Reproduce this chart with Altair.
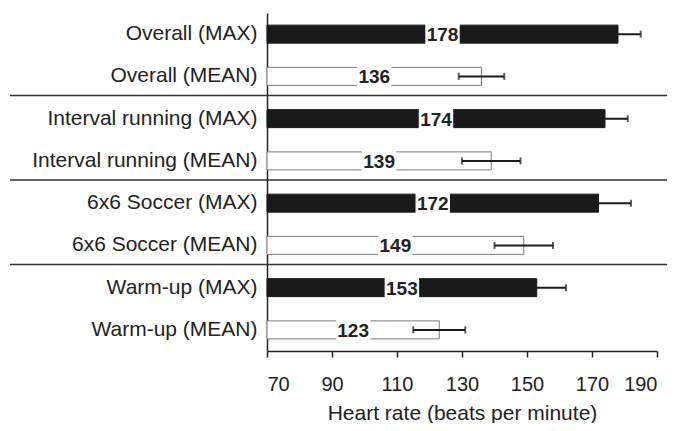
import altair as alt
import pandas as pd

categories = ["Overall (MAX)", "Overall (MEAN)",
              "Interval running (MAX)", "Interval running (MEAN)",
              "6x6 Soccer (MAX)", "6x6 Soccer (MEAN)",
              "Warm-up (MAX)", "Warm-up (MEAN)"]
kinds = ["MAX", "MEAN", "MAX", "MEAN", "MAX", "MEAN", "MAX", "MEAN"]
values = [178, 136, 174, 139, 172, 149, 153, 123]
sds = [7, 7, 7, 9, 10, 9, 9, 8]
x_ticks = [70, 90, 110, 130, 150, 170, 190]
separators = ["Interval running (MAX)", "6x6 Soccer (MAX)", "Warm-up (MAX)"]

X_MIN, X_MAX = 70, 190
FONT = "Liberation Sans"

df = pd.DataFrame({"cat": categories, "kind": kinds, "value": values, "sd": sds})
sep_df = pd.DataFrame({"cat": separators})

y_enc = alt.Y("cat:N", sort=categories,
              scale=alt.Scale(paddingInner=0, paddingOuter=0),
              axis=alt.Axis(title=None, ticks=False, labelFontSize=21, labelFont=FONT,
                            labelColor="#222", labelPadding=10, labelLimit=400,
                            domainColor="#222", domainWidth=1.5))
x_scale = alt.Scale(domain=[X_MIN, X_MAX], nice=False, zero=False)

base = alt.Chart(df).transform_calculate(
    base=str(X_MIN),
    lo="datum.value - datum.sd",
    hi="datum.value + datum.sd",
    mid="(%d + datum.value) / 2" % X_MIN,
    gl="(%d + datum.value) / 2 - 5.3" % X_MIN,
    gr="(%d + datum.value) / 2 + 5.3" % X_MIN,
)

bars = base.mark_bar(size=18, strokeWidth=1).encode(
    x=alt.X("base:Q", scale=x_scale,
            axis=alt.Axis(values=x_ticks, grid=False, tickSize=6, tickColor="#222",
                          tickWidth=1.5, domainColor="#222", domainWidth=1.5,
                          labelFontSize=20, labelFont=FONT, labelColor="#222",
                          labelPadding=17, title="Heart rate (beats per minute)",
                          titleFontSize=21, titleFont=FONT, titleFontWeight="normal",
                          titleColor="#222", titlePadding=8)),
    x2="value:Q",
    y=y_enc,
    fill=alt.Fill("kind:N", scale=alt.Scale(domain=["MAX", "MEAN"], range=["#1a1a1a", "#ffffff"]), legend=None),
    stroke=alt.Stroke("kind:N", scale=alt.Scale(domain=["MAX", "MEAN"], range=["#1a1a1a", "#7a7a7a"]), legend=None),
)

err = base.mark_rule(color="#1a1a1a", strokeWidth=2).encode(
    x="lo:Q", x2="hi:Q", y=alt.Y("cat:N", sort=categories))
cap_lo = base.mark_tick(color="#1a1a1a", size=7, thickness=2).encode(
    x="lo:Q", y=alt.Y("cat:N", sort=categories))
cap_hi = base.mark_tick(color="#1a1a1a", size=7, thickness=2).encode(
    x="hi:Q", y=alt.Y("cat:N", sort=categories))

gap = base.mark_bar(size=22, color="white").encode(
    x="gl:Q", x2="gr:Q", y=alt.Y("cat:N", sort=categories))

labels = base.mark_text(fontSize=19, fontWeight="bold", font=FONT, color="#222",
                        align="center", baseline="middle", dy=1).encode(
    x="mid:Q", y=alt.Y("cat:N", sort=categories), text="value:Q")

seps = alt.Chart(sep_df).mark_rule(color="#333", strokeWidth=1.5, yOffset=-2).encode(
    y=alt.Y("cat:N", sort=categories, bandPosition=0),
    x=alt.value(-257), x2=alt.value(400))

chart = alt.layer(bars, err, cap_lo, cap_hi, gap, labels, seps).properties(
    width=390, height=338,
    autosize=alt.AutoSizeParams(type="none"),
    padding={"left": 259, "top": 5, "right": 10, "bottom": 72},
).configure_view(stroke=None)

chart.save("out.html", embed_options={"renderer": "svg", "actions": False})
